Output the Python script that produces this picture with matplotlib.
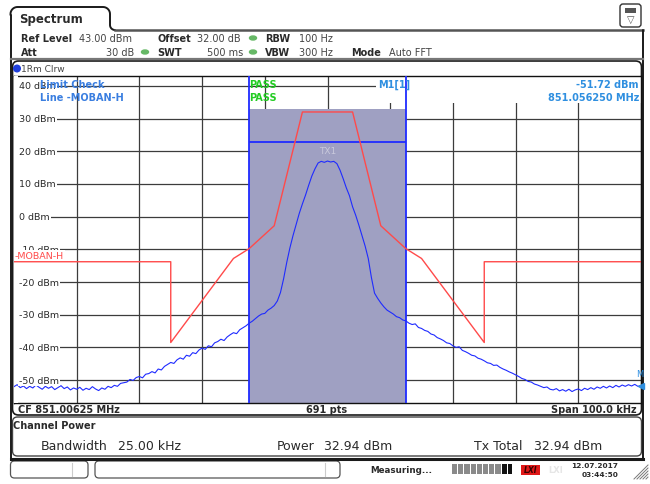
import numpy as np
import matplotlib.pyplot as plt
from matplotlib.patches import FancyBboxPatch, Rectangle, Ellipse, Circle

# --- measurement data -------------------------------------------------------
# trace 1 (Clrw), frequency offset from CF in kHz, 0.5 kHz steps over the span
freq_khz = np.linspace(-50, 50, 201)
trace_dbm = [
    -52.0, -51.4, -52.3, -51.8, -52.6, -51.9, -52.4, -51.5, -52.2, -52.8,
    -51.9, -52.5, -52.0, -52.9, -52.3, -51.7, -52.6, -52.1, -53.0, -52.4,
    -52.8, -52.2, -53.1, -52.5, -52.9, -52.0, -52.7, -53.2, -52.4, -52.8,
    -51.9, -52.3, -51.6, -51.9, -51.0, -50.8, -50.6, -49.8, -50.1, -49.2,
    -48.9, -49.3, -48.2, -48.0, -47.4, -47.8, -46.6, -46.9, -45.8, -45.2,
    -44.6, -44.9, -43.8, -43.2, -43.6, -42.4, -42.7, -41.6, -41.9, -40.8,
    -40.2, -40.6, -39.5, -39.8, -38.6, -38.2, -37.5, -37.9, -36.8, -36.1,
    -35.5, -35.8, -34.6, -34.0, -33.4, -32.6, -32.0, -31.2, -30.4, -29.8,
    -29.6, -28.6, -28.0, -27.2, -25.8, -23.2, -19.0, -14.0, -9.6, -5.8,
    -2.4, 1.0, 3.9, 6.6, 9.6, 12.4, 14.6, 16.4, 16.9, 16.6,
    17.0, 16.7, 16.9, 16.2, 14.2, 11.6, 8.8, 6.4, 3.0, 0.4,
    -2.6, -5.8, -9.0, -12.8, -18.6, -23.4, -25.0, -26.4, -27.6, -28.6,
    -29.2, -29.8, -30.6, -30.9, -31.6, -31.9, -32.6, -33.0, -32.8, -33.9,
    -34.2, -34.8, -35.1, -35.9, -36.2, -37.0, -37.4, -37.9, -38.6, -38.8,
    -39.5, -40.0, -39.8, -40.9, -41.3, -41.8, -42.4, -42.6, -43.3, -43.6,
    -44.1, -44.7, -44.9, -45.5, -45.4, -46.1, -46.6, -47.0, -47.5, -47.9,
    -48.4, -48.9, -49.5, -49.8, -50.4, -50.6, -51.2, -51.5, -51.9, -52.3,
    -52.1, -52.8, -53.0, -52.6, -53.3, -52.9, -53.4, -52.8, -53.5, -53.0,
    -52.7, -53.2, -52.5, -52.9, -52.3, -52.8, -52.1, -52.5, -51.9, -52.4,
    -51.8, -52.3, -51.6, -52.1, -51.5, -51.9, -51.4, -51.8, -51.3, -51.9,
    -51.72,
]

# limit line MOBAN-H
limit_khz = [-50, -25, -25, -15, -12.5, -8.5, -4, 4, 8.5, 12.5, 15, 25, 25, 50]
limit_dbm = [-13.8, -13.8, -38.5, -12.8, -9.8, -2.8, 32, 32, -2.8, -9.8,
             -12.8, -38.5, -13.8, -13.8]

# channel power measurement
ch_bw_khz = 25.0
ch_power = 32.94
tx1_level = 22.9

ref_level = 43.0
y_bottom = -57.0
span_khz = 100.0
y_ticks = [40, 30, 20, 10, 0, -10, -20, -30, -40, -50]
y_tick_labels = ['40 dBm', '30 dBm', '20 dBm', '10 dBm', '0 dBm', '-10 dBm',
                 '-20 dBm', '-30 dBm', '-40 dBm', '-50 dBm']

BLUE = '#1f2bff'
RED = '#ff4a4a'
SHADE = '#9fa0c2'
MKR = '#2f8fe0'
TXT = '#2a2a2a'

W, H = 650, 485
fig = plt.figure(figsize=(6.5, 4.85), dpi=100)
fig.patch.set_facecolor('white')


def px_axes(z):
    a = fig.add_axes([0, 0, 1, 1], zorder=z)
    a.set_xlim(0, W)
    a.set_ylim(H, 0)
    a.axis('off')
    a.patch.set_visible(False)
    return a


bg = px_axes(0)
fg = px_axes(3)

# --- diagram ----------------------------------------------------------------
ax = fig.add_axes([14 / W, 81 / H, 627 / W, 327 / H], zorder=1)
ax.set_facecolor('white')
ax.set_xlim(-span_khz / 2, span_khz / 2)
ax.set_ylim(y_bottom, ref_level)
ax.set_xticks(np.arange(-50, 51, 10))
ax.set_yticks(y_ticks)
ax.tick_params(length=0, labelbottom=False, labelleft=False)
ax.grid(color='#3c3c3c', lw=0.9)
ax.set_axisbelow(True)
for s in ax.spines.values():
    s.set_color('#111111')
    s.set_linewidth(1.0)

lo, hi = -ch_bw_khz / 2, ch_bw_khz / 2
ax.fill_between([lo, hi], y_bottom, ch_power, color=SHADE, lw=0, zorder=2)
ax.axvline(lo, color=BLUE, lw=1.3, zorder=4)
ax.axvline(hi, color=BLUE, lw=1.3, zorder=4)
ax.hlines(tx1_level, lo, hi, color=BLUE, lw=1.3, zorder=4)
ax.text(0, tx1_level - 1.2, 'TX1', color='#c9c9dc', fontsize=6.5,
        ha='center', va='top', zorder=4)

# marker info area
ax.add_patch(Rectangle((7.7, 34.7), 42.3, 8.3, fc='white', ec='none', zorder=2.5))

ax.plot(limit_khz, limit_dbm, color=RED, lw=1.0, zorder=5)
ax.plot(freq_khz, trace_dbm, color=BLUE, lw=0.8, zorder=6)

# level labels sit inside the diagram, blanking the grid behind them
ytr = ax.get_yaxis_transform()
ax.add_patch(Rectangle((0, y_bottom), 0.006, ref_level - y_bottom,
                       transform=ytr, fc='white', ec='none', zorder=3))
for v, lab in zip(y_ticks, y_tick_labels):
    ax.text(5 / 627, v, lab, transform=ytr, fontsize=6.8, color=TXT,
            va='center', ha='left', zorder=7,
            bbox=dict(fc='white', ec='none', pad=0.8))
ax.text(1 / 627, -11.8, '-MOBAN-H', transform=ytr, fontsize=6.8, color=RED,
        va='center', ha='left', zorder=8,
        bbox=dict(fc='white', ec='none', pad=0.8))
ax.text(49.2, -48.0, 'M', color=MKR, fontsize=6, ha='left', va='center', zorder=8)
ax.plot([50], [-51.72], marker='<', ms=4, color=MKR, zorder=8, clip_on=False)

# --- frame / tabs -----------------------------------------------------------
k = dict(color='#1a1a1a', lw=1.4, solid_capstyle='round')
bg.plot([10.5, 10.5], [16, 459], **k)
t = np.linspace(0, np.pi / 2, 10)
bg.plot(np.r_[10.5, 10.5 + 7 - 7 * np.cos(t), 103 + 7 * np.sin(t), 110, 110 + 5 - 5 * np.cos(t)],
        np.r_[16, 15 - 7 * np.sin(t), 15 - 7 * np.cos(t), 26, 26 + 5 * np.sin(t)], **k)
bg.plot([115, 643], [31, 31], color='#555555', lw=1.8)
bg.plot([643, 643], [31, 459], **k)
bg.plot([10.5, 643], [60, 60], color='#777777', lw=1.6)
bg.add_patch(FancyBboxPatch((12.5, 62), 629, 354, boxstyle='round,pad=0,rounding_size=6',
                            fc='none', ec='#1a1a1a', lw=1.2))
bg.add_patch(FancyBboxPatch((12.5, 418), 629, 39, boxstyle='round,pad=0,rounding_size=5',
                            fc='none', ec='#444444', lw=1.0))
bg.plot([10.5, 643], [459.5, 459.5], color='#1a1a1a', lw=2.2)

# top-right icon
bg.add_patch(FancyBboxPatch((620, 5), 21, 23, boxstyle='round,pad=0,rounding_size=3',
                            fc='white', ec='#333333', lw=1.0))
bg.add_patch(Rectangle((625, 9), 11, 5, fc='#555555', ec='none'))
fg.text(630.5, 19.5, '▽', fontsize=7, ha='center', va='center', color='#555555')

# --- header text ------------------------------------------------------------
def txt(x, y, s, **kw):
    kw.setdefault('fontsize', 7)
    kw.setdefault('color', TXT)
    kw.setdefault('va', 'center')
    fg.text(x, y, s, **kw)


def dot(x, y):
    fg.add_patch(Ellipse((x, y), 7, 4, color='#66b866'))


txt(19, 19, 'Spectrum', fontsize=8.5, fontweight='bold')
txt(21, 39, 'Ref Level', fontweight='bold')
txt(79, 39, '43.00 dBm', color='#444444')
txt(157, 39, 'Offset', fontweight='bold')
txt(197, 39, '32.00 dB', color='#444444')
dot(253, 39)
txt(265, 39, 'RBW', fontweight='bold')
txt(299, 39, '100 Hz', color='#444444')

txt(21, 53, 'Att', fontweight='bold')
txt(134, 53, '30 dB', color='#444444', ha='right')
dot(145, 53)
txt(157, 53, 'SWT', fontweight='bold')
txt(243, 53, '500 ms', color='#444444', ha='right')
dot(253, 53)
txt(265, 53, 'VBW', fontweight='bold')
txt(299, 53, '300 Hz', color='#444444')
txt(351, 53, 'Mode', fontweight='bold')
txt(389, 53, 'Auto FFT', color='#444444')

fg.add_patch(Circle((17, 69.5), 3.3, color='#1f3fdd'))
txt(21, 69.5, '1Rm Clrw', fontsize=6.5, color='#444444')

# limit check / marker readout
txt(40, 85, 'Limit Check', color='#3a7ee0', fontweight='bold')
txt(40, 98, 'Line -MOBAN-H', color='#3a7ee0', fontweight='bold')
txt(249, 85, 'PASS', color='#22cc22', fontweight='bold')
txt(249, 98, 'PASS', color='#22cc22', fontweight='bold')
txt(378, 85, 'M1[1]', color=MKR, fontweight='bold')
txt(639, 85, '-51.72 dBm', color=MKR, fontweight='bold', ha='right')
txt(639, 98, '851.056250 MHz', color=MKR, fontweight='bold', ha='right')

# footer of the diagram
txt(18, 410, 'CF 851.00625 MHz', fontweight='bold')
txt(327, 410, '691 pts', fontweight='bold', ha='center')
txt(637, 410, 'Span 100.0 kHz', fontweight='bold', ha='right')

# channel power table
txt(13, 426.5, 'Channel Power', fontweight='bold')
txt(41, 447, 'Bandwidth', fontsize=9)
txt(118, 447, '25.00 kHz', fontsize=9)
txt(277, 447, 'Power', fontsize=9)
txt(324, 447, '32.94 dBm', fontsize=9)
txt(474, 447, 'Tx Total', fontsize=9)
txt(534, 447, '32.94 dBm', fontsize=9)

# --- status bar -------------------------------------------------------------
for x0, x1, xd in [(10.5, 88, 72), (95, 340, 325)]:
    bg.add_patch(FancyBboxPatch((x0, 462), x1 - x0, 17, boxstyle='round,pad=0,rounding_size=4',
                                fc='white', ec='#555555', lw=0.9))
    bg.plot([xd, xd], [464, 477], color='#cccccc', lw=0.8)
txt(370, 470.5, 'Measuring...', fontsize=6.3, fontweight='bold')
for i in range(8):
    bg.add_patch(Rectangle((452 + i * 6.2, 465), 5.2, 10, fc='#8a8a8a', ec='none'))
for i in range(2):
    bg.add_patch(Rectangle((502 + i * 5.5, 465), 4.8, 10, fc='#111111', ec='none'))
bg.add_patch(Rectangle((521, 465.5), 19, 10, fc='#e01818', ec='none'))
txt(530.5, 470.5, 'LXI', fontsize=5.5, color='#3a0000', fontweight='bold',
    fontstyle='italic', ha='center')
txt(556, 470.5, 'LXI', fontsize=6, color='#e6e6e6', fontweight='bold', ha='center')
txt(618, 466, '12.07.2017', fontsize=5.3, fontweight='bold', ha='right')
txt(618, 475.5, '03:44:50', fontsize=5.3, fontweight='bold', ha='right')
for i in range(5):
    bg.plot([634 + i * 3, 648], [480, 466 + i * 3], color='#777777', lw=0.7)

fig.savefig('out.png', dpi=100, facecolor='white')
